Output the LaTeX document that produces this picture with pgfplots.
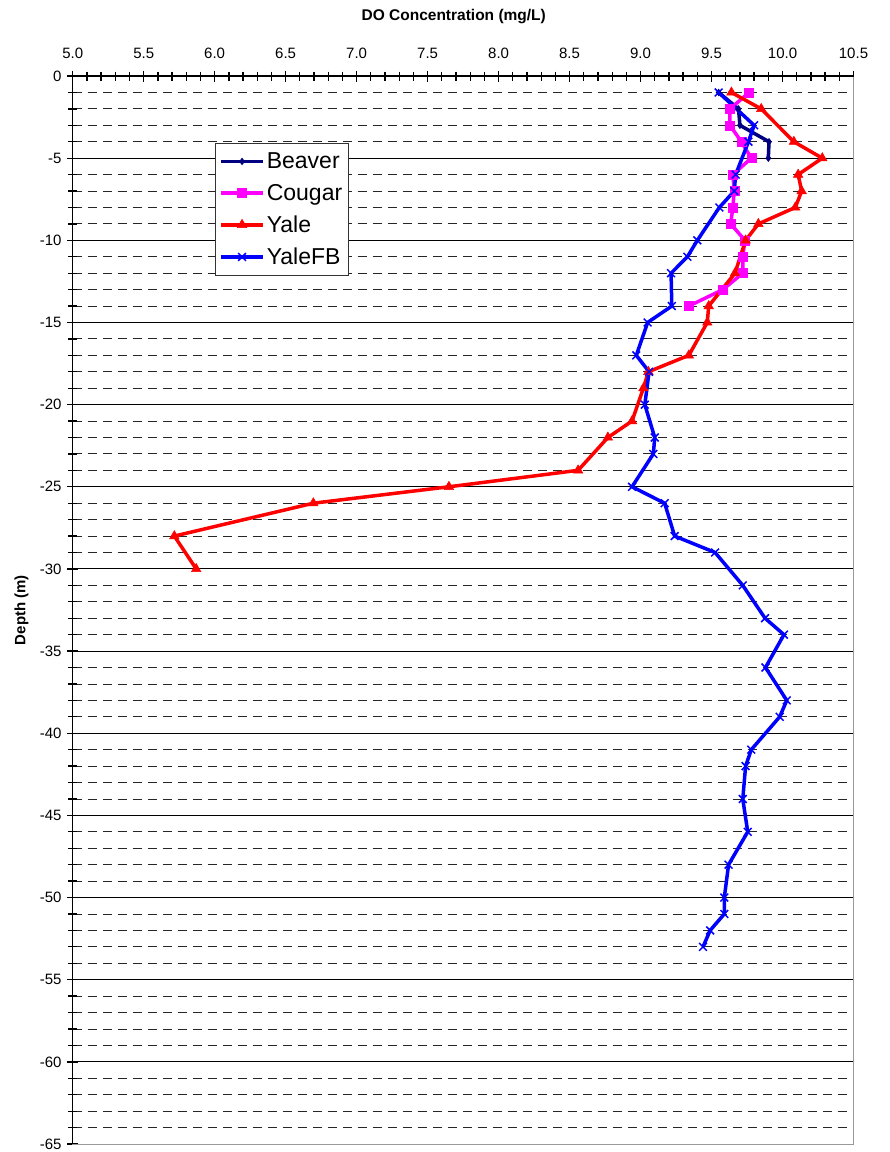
\documentclass[border=0pt]{standalone}
\usepackage{fontspec}
\setmainfont{Liberation Sans}
\usepackage{pgfplots}
\pgfplotsset{compat=1.18}
\definecolor{beaver}{RGB}{0,0,128}
\definecolor{cougar}{RGB}{255,0,255}
\definecolor{yale}{RGB}{255,0,0}
\definecolor{yalefb}{RGB}{0,0,255}
\begin{document}
\begin{tikzpicture}[x=1pt,y=1pt]
\useasboundingbox (0,-1152) rectangle (890,0);
\begin{axis}[
  at={(72.7pt,-1144pt)}, anchor=south west,
  width=780.8pt, height=1068pt, scale only axis,
  xmin=5, xmax=10.5, ymin=-65, ymax=0,
  xtick distance=0.5, minor x tick num=4,
  ytick distance=5, minor y tick num=4,
  xtick pos=upper, xticklabel pos=upper,
  ytick pos=left,
  tick align=center,
  major tick length=11pt, minor tick length=9pt,
  every tick/.style={black, line width=1.3pt},
  axis line style={draw=gray!80, line width=1pt},
  /pgf/number format/assume math mode=true,
  xticklabel={\pgfmathprintnumber[fixed,fixed zerofill,precision=1]{\tick}},
  yticklabel={\pgfmathprintnumber[fixed,precision=0]{\tick}},
  tick label style={font=\fontsize{15}{17}\selectfont},
  xticklabel style={anchor=base, yshift=12pt},
  yticklabel style={anchor=east, inner sep=0pt, xshift=-5.5pt},
  ymajorgrids, yminorgrids,
  major grid style={black, line width=0.9pt},
  minor grid style={black!85, line width=0.9pt, dash pattern=on 9pt off 6pt},
  xlabel={DO Concentration (mg/L)},
  xlabel style={at={(axis description cs:0.488,1.0555)}, anchor=center, font=\bfseries\fontsize{15.5}{17}\selectfont},
  ylabel={Depth (m)},
  ylabel style={at={(axis description cs:-0.0656,0.5)}, anchor=center, font=\bfseries\fontsize{15}{17}\selectfont},
  legend style={at={(axis description cs:0.182,0.937)}, anchor=north west,
    font=\fontsize{23}{25}\selectfont, draw=black!80, line width=1pt, fill=white,
    inner xsep=4pt, inner ysep=7pt, row sep=10pt},
  legend cell align=left,
  legend image code/.code={\draw[mark repeat=2,mark phase=2] plot coordinates {(0pt,0pt) (21pt,0pt) (42pt,0pt)};},
  clip=false,
]
\addplot[color=beaver, line width=3.5pt, mark=diamond*, mark size=3pt, mark options={solid, line width=1pt}] coordinates {
(9.55,-1) (9.69,-2) (9.70,-3) (9.905,-4) (9.90,-5)
};
\addlegendentry{Beaver}
\addplot[color=cougar, line width=3.5pt, mark=square*, mark size=4.5pt, mark options={solid, line width=0.5pt}] coordinates {
(9.765,-1) (9.63,-2) (9.63,-3) (9.71,-4) (9.78,-5) (9.65,-6) (9.66,-7) (9.65,-8) (9.635,-9) (9.735,-10) (9.72,-11) (9.72,-12) (9.58,-13) (9.34,-14)
};
\addlegendentry{Cougar}
\addplot[color=yale, line width=3.5pt, mark=triangle*, mark size=5.5pt, mark options={solid, line width=0.5pt}] coordinates {
(9.64,-1) (9.85,-2) (10.08,-4) (10.28,-5) (10.11,-6) (10.135,-7) (10.09,-8) (9.83,-9) (9.74,-10) (9.665,-12) (9.48,-14) (9.47,-15) (9.34,-17) (9.055,-18) (9.02,-19) (8.94,-21) (8.77,-22) (8.56,-24) (7.65,-25) (6.695,-26) (5.716,-28) (5.87,-30)
};
\addlegendentry{Yale}
\addplot[color=yalefb, line width=3.5pt, mark=x, mark size=5.5pt, mark options={solid, line width=1.5pt}] coordinates {
(9.55,-1) (9.80,-3) (9.76,-4) (9.67,-6) (9.66,-7) (9.555,-8) (9.40,-10) (9.33,-11) (9.215,-12) (9.22,-14) (9.05,-15) (8.97,-17) (9.06,-18) (9.03,-20) (9.10,-22) (9.09,-23) (8.94,-25) (9.17,-26) (9.24,-28) (9.525,-29) (9.72,-31) (9.877,-33) (10.01,-34) (9.88,-36) (10.03,-38) (9.98,-39) (9.78,-41) (9.74,-42) (9.72,-44) (9.755,-46) (9.62,-48) (9.59,-50) (9.59,-51) (9.49,-52) (9.44,-53)
};
\addlegendentry{YaleFB}
\draw[black, line width=1.5pt] (rel axis cs:0,0) -- (rel axis cs:0,1) -- (rel axis cs:1,1);
\end{axis}
\end{tikzpicture}
\end{document}
